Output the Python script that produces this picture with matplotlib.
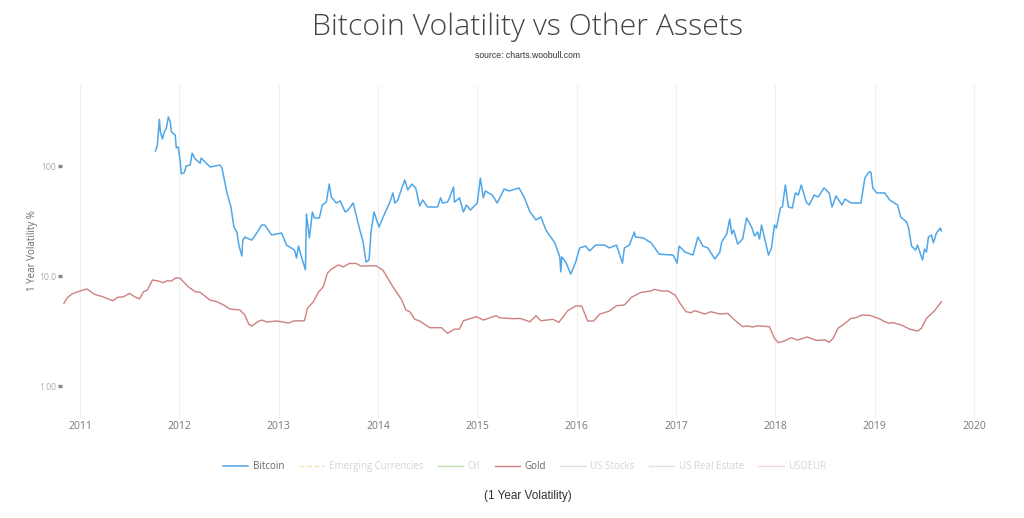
import matplotlib
matplotlib.use('Agg')
import matplotlib.pyplot as plt

btc_dates = [2011.76, 2011.78, 2011.80, 2011.81, 2011.83, 2011.85, 2011.87, 2011.89, 2011.91, 2011.92, 2011.96, 2011.97, 2011.99,
             2012.01, 2012.02, 2012.05, 2012.07, 2012.11, 2012.13, 2012.16, 2012.21, 2012.22, 2012.26, 2012.31, 2012.41, 2012.43,
             2012.48, 2012.52, 2012.55, 2012.58, 2012.60, 2012.63, 2012.64, 2012.66, 2012.73, 2012.78, 2012.83, 2012.86, 2012.93,
             2013.03, 2013.08, 2013.16, 2013.18, 2013.20, 2013.23, 2013.27, 2013.28, 2013.31, 2013.34, 2013.36, 2013.41, 2013.44,
             2013.48, 2013.51, 2013.53, 2013.58, 2013.62, 2013.67, 2013.70, 2013.75, 2013.77, 2013.80, 2013.82, 2013.85, 2013.88,
             2013.91, 2013.93, 2013.96, 2014.01, 2014.07, 2014.12, 2014.15, 2014.17, 2014.20, 2014.24, 2014.27, 2014.30, 2014.34,
             2014.38, 2014.42, 2014.45, 2014.50, 2014.60, 2014.63, 2014.65, 2014.70, 2014.72, 2014.76, 2014.77, 2014.82, 2014.86,
             2014.89, 2014.93, 2015.00, 2015.03, 2015.06, 2015.08, 2015.15, 2015.20, 2015.27, 2015.32, 2015.42, 2015.47, 2015.53,
             2015.59, 2015.64, 2015.69, 2015.78, 2015.83, 2015.84, 2015.85, 2015.89, 2015.94, 2015.99, 2016.03, 2016.09, 2016.13,
             2016.19, 2016.28, 2016.33, 2016.40, 2016.46, 2016.48, 2016.53, 2016.58, 2016.59, 2016.67, 2016.75, 2016.83, 2016.97,
             2017.01, 2017.03, 2017.09, 2017.17, 2017.22, 2017.27, 2017.32, 2017.39, 2017.44, 2017.46, 2017.51, 2017.54, 2017.56,
             2017.58, 2017.62, 2017.67, 2017.71, 2017.76, 2017.79, 2017.82, 2017.84, 2017.86, 2017.89, 2017.93, 2017.96, 2017.99,
             2018.01, 2018.05, 2018.07, 2018.10, 2018.13, 2018.17, 2018.20, 2018.23, 2018.26, 2018.31, 2018.34, 2018.39, 2018.43,
             2018.49, 2018.54, 2018.57, 2018.61, 2018.67, 2018.70, 2018.76, 2018.86, 2018.90, 2018.94, 2018.96, 2018.98, 2019.02,
             2019.10, 2019.15, 2019.23, 2019.26, 2019.32, 2019.34, 2019.37, 2019.41, 2019.43, 2019.48, 2019.50, 2019.52, 2019.54,
             2019.57, 2019.59, 2019.62, 2019.66, 2019.67]
btc_vol = [137, 155, 266, 205, 176, 205, 221, 279, 251, 205, 191, 146, 149,
           109, 85, 87, 100, 102, 131, 116, 106, 118, 109, 98, 102, 96,
           56.9, 42.4, 27.9, 25.1, 19.1, 15.2, 21.2, 22.6, 21.2, 24.6, 29.1, 29.1, 23.6,
           24.6, 19.1, 17.2, 14.6, 18.7, 14.9, 11.4, 36.6, 22.2, 38.2, 33.7, 33.7, 44.2,
           47.0, 68.6, 52.3, 46.1, 48.1, 38.2, 39.8, 46.1, 39.0, 30.3, 25.7, 20.4, 13.4,
           14.0, 25.1, 38.2, 27.9, 37.4, 47.0, 56.9, 46.1, 49.1, 63.1, 74.6, 60.5, 68.6,
           63.1, 43.3, 49.1, 42.4, 42.4, 51.3, 46.1, 47.0, 51.3, 64.4, 47.0, 51.3, 38.2,
           44.2, 39.8, 46.1, 77.8, 51.3, 59.3, 54.5, 46.1, 61.8, 59.3, 63.1, 52.3, 38.2,
           32.4, 34.4, 26.2, 20.0, 14.9, 10.9, 14.9, 13.4, 10.4, 13.4, 18.0, 18.7, 16.9,
           19.1, 19.1, 18.0, 19.1, 13.1, 18.0, 19.1, 25.1, 22.6, 22.2, 20.0, 15.8, 15.5,
           13.1, 18.7, 16.5, 15.5, 22.6, 18.7, 18.0, 14.3, 16.5, 20.4, 24.1, 33.0, 24.1,
           26.2, 19.5, 21.7, 33.7, 27.9, 23.1, 25.1, 21.7, 29.1, 22.2, 15.5, 18.0, 29.1,
           27.3, 41.5, 42.4, 67.2, 42.4, 41.5, 56.9, 54.5, 67.2, 47.0, 44.2, 54.5, 52.3,
           63.1, 56.9, 42.4, 53.4, 44.2, 50.1, 46.1, 46.1, 77.8, 88.2, 88.2, 63.1, 56.9,
           56.9, 49.1, 44.2, 34.4, 31.0, 27.3, 18.7, 17.2, 19.1, 14.0, 17.6, 16.5, 22.6,
           23.6, 20.0, 24.6, 27.3, 25.7]

gold_dates = [2010.84, 2010.87, 2010.92, 2011.00, 2011.07, 2011.15, 2011.23, 2011.33, 2011.38, 2011.44, 2011.50, 2011.55, 2011.60,
              2011.64, 2011.68, 2011.73, 2011.79, 2011.84, 2011.88, 2011.92, 2011.97, 2012.01, 2012.09, 2012.16, 2012.21, 2012.31,
              2012.38, 2012.46, 2012.51, 2012.61, 2012.66, 2012.70, 2012.73, 2012.79, 2012.83, 2012.88, 2012.98, 2013.10, 2013.15,
              2013.26, 2013.29, 2013.35, 2013.40, 2013.45, 2013.49, 2013.53, 2013.60, 2013.65, 2013.71, 2013.78, 2013.83, 2013.98,
              2014.05, 2014.15, 2014.24, 2014.28, 2014.32, 2014.37, 2014.42, 2014.52, 2014.64, 2014.70, 2014.77, 2014.82, 2014.86,
              2014.99, 2015.06, 2015.19, 2015.22, 2015.36, 2015.43, 2015.53, 2015.59, 2015.64, 2015.76, 2015.82, 2015.91, 2015.99,
              2016.05, 2016.11, 2016.17, 2016.23, 2016.33, 2016.40, 2016.48, 2016.55, 2016.65, 2016.75, 2016.78, 2016.85, 2016.92,
              2016.99, 2017.04, 2017.10, 2017.15, 2017.19, 2017.29, 2017.35, 2017.44, 2017.52, 2017.59, 2017.67, 2017.71, 2017.77,
              2017.82, 2017.94, 2017.99, 2018.03, 2018.09, 2018.16, 2018.22, 2018.32, 2018.41, 2018.50, 2018.54, 2018.58, 2018.63,
              2018.70, 2018.76, 2018.81, 2018.87, 2018.95, 2019.05, 2019.10, 2019.15, 2019.17, 2019.27, 2019.35, 2019.43, 2019.47,
              2019.52, 2019.60, 2019.67]
gold_vol = [5.65, 6.31, 6.86, 7.31, 7.62, 6.81, 6.48, 5.96, 6.40, 6.48, 6.96, 6.48, 6.18,
            7.2, 7.46, 9.2, 9.0, 8.69, 9.06, 9.0, 9.65, 9.53, 7.99, 7.2, 7.11, 6.05,
            5.84, 5.37, 5.01, 4.91, 4.42, 3.64, 3.51, 3.84, 3.98, 3.82, 3.90, 3.74, 3.90,
            3.92, 5.09, 5.84, 7.11, 7.99, 10.6, 11.5, 12.6, 12.1, 13.0, 13.0, 12.3, 12.4,
            11.3, 7.99, 6.05, 4.91, 4.74, 4.04, 3.90, 3.39, 3.39, 3.01, 3.29, 3.29, 3.92,
            4.27, 3.98, 4.36, 4.18, 4.09, 4.12, 3.84, 4.36, 3.92, 4.04, 3.79, 4.84, 5.34,
            5.34, 3.90, 3.90, 4.49, 4.81, 5.37, 5.45, 6.40, 7.11, 7.31, 7.57, 7.31, 7.31,
            6.72, 5.65, 4.74, 4.64, 4.84, 4.51, 4.74, 4.51, 4.58, 3.98, 3.46, 3.53, 3.44,
            3.53, 3.46, 2.71, 2.48, 2.57, 2.75, 2.62, 2.79, 2.60, 2.62, 2.50, 2.71, 3.35,
            3.71, 4.12, 4.18, 4.42, 4.39, 4.07, 3.84, 3.71, 3.79, 3.58, 3.29, 3.16, 3.35,
            4.12, 4.81, 5.84]

years = [2011, 2012, 2013, 2014, 2015, 2016, 2017, 2018, 2019, 2020]
y_ticks = [1, 10, 100]
y_labels = ['1.00', '10.0', '100']
hidden_series = ['Emerging Currencies', 'Oil']
hidden_series2 = ['US Stocks', 'US Real Estate', 'USDEUR']

fig = plt.figure(figsize=(10.24, 5.18), dpi=100)
ax = fig.add_axes([62 / 1024, 1 - 418 / 518, (1000 - 62) / 1024, (418 - 85) / 518])

ax.plot(btc_dates, btc_vol, color='#4fa6e8', lw=1.1, label='Bitcoin', zorder=3)
ax.plot([], [], color='#f2e6b8', lw=1, ls='--', label=hidden_series[0])
ax.plot([], [], color='#bcdcae', lw=1, label=hidden_series[1])
ax.plot(gold_dates, gold_vol, color='#cf8080', lw=1.0, label='Gold', zorder=3)
ax.plot([], [], color='#e0e0e0', lw=1, label=hidden_series2[0])
ax.plot([], [], color='#e0e0e0', lw=1, label=hidden_series2[1])
ax.plot([], [], color='#f6d5dc', lw=1, label=hidden_series2[2])

ax.set_yscale('log')
ax.set_xlim(2010.82, 2020.26)
ax.set_ylim(0.512, 545)
ax.set_xticks(years)
ax.set_xticklabels([str(y) for y in years], family='Open Sans', fontsize=7.5, color='#777777')
ax.set_yticks(y_ticks)
ax.set_yticklabels(y_labels, family='Open Sans', fontsize=6.2, color='#aaaaaa')
ax.minorticks_off()
ax.tick_params(axis='x', length=0, pad=2.5)
ax.tick_params(axis='y', length=3, width=2.4, color='#888888', pad=1)
ax.grid(axis='x', color='#f0f0f0', lw=0.8)
ax.set_axisbelow(True)
for s in ax.spines.values():
    s.set_visible(False)

fig.text(33 / 1024, 1 - 251 / 518, '1 Year Volatility %', rotation=90, ha='center', va='center',
         family='Open Sans', fontsize=7, color='#666666')

fig.text(528 / 1024, 1 - 27 / 518, 'Bitcoin Volatility vs Other Assets', ha='center', va='center',
         family='Open Sans', weight='light', fontsize=21.8, color='#444444')
fig.text(528 / 1024, 1 - 55.5 / 518, 'source: charts.woobull.com', ha='center', va='center',
         family='Liberation Sans', fontsize=6.2, color='#333333')
fig.text(528 / 1024, 1 - 496 / 518, '(1 Year Volatility)', ha='center', va='center',
         family='Liberation Sans', fontsize=8.5, color='#333333')

leg = fig.legend(loc='center', bbox_to_anchor=(525 / 1024, 1 - 466.5 / 518), ncol=7, frameon=False,
                 prop={'family': 'Open Sans', 'size': 7}, handlelength=2.6, handletextpad=0.5,
                 columnspacing=1.45)
for t in leg.get_texts():
    if t.get_text() in ('Bitcoin', 'Gold'):
        t.set_color('#666666')
    else:
        t.set_color('#d4d4d4')

fig.savefig('out.png', dpi=100)
